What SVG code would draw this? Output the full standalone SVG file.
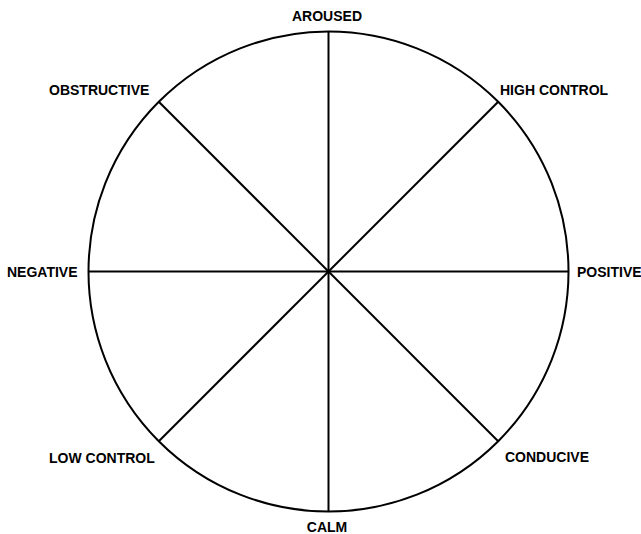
<svg xmlns="http://www.w3.org/2000/svg" width="641" height="534" viewBox="0 0 641 534">
<style>
.l{font-family:"Liberation Sans",Arial,sans-serif;font-weight:bold;font-size:14px;fill:#000}
.s{stroke:#000;stroke-width:2;fill:none}
</style>
<rect width="641" height="534" fill="#fff"/>
<g id="connectors">
<circle class="s" cx="328.5" cy="271.5" r="240"/>
<line class="s" x1="328.5" y1="31.5" x2="328.5" y2="511.5"/>
<line class="s" x1="88.5" y1="271.5" x2="568.5" y2="271.5"/>
<line class="s" x1="158.8" y1="101.8" x2="498.2" y2="441.2"/>
<line class="s" x1="498.2" y1="101.8" x2="158.8" y2="441.2"/>
</g>
<g id="aroused"><text class="l" x="327" y="21" text-anchor="middle">AROUSED</text></g>
<g id="obstructive"><text class="l" x="49" y="95">OBSTRUCTIVE</text></g>
<g id="high-control"><text class="l" x="500" y="95">HIGH CONTROL</text></g>
<g id="negative"><text class="l" x="7" y="277">NEGATIVE</text></g>
<g id="positive"><text class="l" x="577" y="277">POSITIVE</text></g>
<g id="low-control"><text class="l" x="49" y="463">LOW CONTROL</text></g>
<g id="conducive"><text class="l" x="505" y="462">CONDUCIVE</text></g>
<g id="calm"><text class="l" x="327" y="532" text-anchor="middle">CALM</text></g>
</svg>
